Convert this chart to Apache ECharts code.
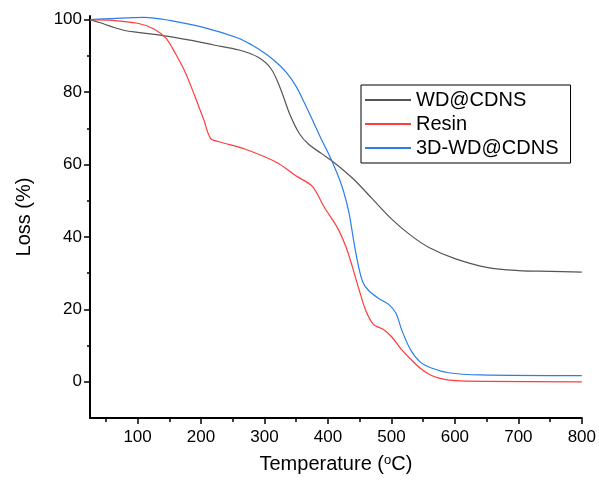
<!DOCTYPE html>
<html>
<head>
<meta charset="utf-8">
<script src="https://cdn.jsdelivr.net/npm/echarts@6.0.0/dist/echarts.min.js"></script>
<style>
  html, body { margin: 0; padding: 0; background: #fff; }
  #main { width: 599px; height: 483px; }
</style>
</head>
<body>
<div id="main"></div>
<script>
// 曲线数据 (温度 / 失重)
let wdTemp = [25, 40, 60, 80, 100, 140, 180, 220, 260, 290, 310, 325, 340, 355, 370, 390, 410, 440, 470, 500, 530, 560, 600, 650, 700, 750, 800]
let wdLoss = [100, 99.2, 98, 97, 96.5, 95.6, 94.4, 93, 91.6, 89.6, 86.5, 81, 73.8, 68.5, 65.5, 63, 60.5, 56, 50.5, 45, 40.5, 37, 34, 31.6, 30.7, 30.5, 30.3]

let resinTemp = [25, 60, 100, 125, 145, 160, 175, 190, 205, 215, 230, 270, 320, 350, 375, 395, 415, 428, 438, 449, 460, 472, 488, 500, 516, 530, 545, 560, 575, 600, 650, 800]
let resinLoss = [100, 99.8, 99, 97.5, 94.8, 90.5, 85.5, 79, 72, 67.2, 66.2, 64.2, 60.5, 56.8, 54, 48, 42.5, 37.4, 32, 25.4, 19.5, 15.8, 14.4, 12.5, 8.9, 6.3, 3.8, 2, 1, 0.3, 0.1, 0]

let d3Temp = [25, 60, 110, 150, 205, 257, 280, 300, 318, 335, 350, 362, 375, 390, 405, 422, 433, 441, 448, 455, 464, 480, 496, 507, 516, 530, 545, 563, 590, 640, 800]
let d3Loss = [100, 100.3, 100.6, 99.8, 97.8, 95, 93, 90.8, 88.3, 85.3, 81.5, 77.3, 72.5, 66.8, 61.4, 54, 46.7, 38.4, 32, 27.5, 25.2, 23, 21.3, 19, 14.4, 8.9, 5.5, 3.8, 2.5, 1.9, 1.7]

let names = ['WD@CDNS', 'Resin', '3D-WD@CDNS']
let colors = ['#555555', '#ff3c3c', '#2b7de9']

// 刻度
let xMajor = [100, 200, 300, 400, 500, 600, 700, 800]
let xMinor = [50, 150, 250, 350, 450, 550, 650, 750]
let yMajor = [0, 20, 40, 60, 80, 100]
let yMinor = [10, 30, 50, 70, 90]

function pairs(xs, ys) {
  let out = []
  for (var i = 0; i < xs.length; i++) {
    out.push([xs[i], ys[i]])
  }
  return out
}

var myChart = echarts.init(document.getElementById('main'))
var font = 'Liberation Sans, Arial, sans-serif'
var option = {
  animation: false,
  textStyle: { fontFamily: font },
  grid: { left: 90, right: 15, top: 16, bottom: 65 },
  legend: {
    orient: 'vertical',
    left: 361,
    top: 85,
    padding: [5, 12, 5, 3],
    itemGap: 4,
    itemWidth: 46,
    itemHeight: 15,
    itemStyle: { opacity: 0 },
    borderColor: '#000',
    borderWidth: 1,
    textStyle: { fontSize: 20, color: '#000', fontFamily: font },
    data: names,
  },
  xAxis: [
    {
      type: 'value',
      min: 25,
      max: 800,
      name: 'Temperature ({sup|o}C)',
      nameLocation: 'middle',
      nameGap: 36,
      nameTextStyle: {
        fontSize: 20,
        color: '#000',
        rich: { sup: { fontSize: 13, verticalAlign: 'top', padding: [0, 0, 8, 0] } },
      },
      axisLine: { onZero: false, lineStyle: { color: '#000', width: 2 } },
      axisTick: { inside: false, length: 6, lineStyle: { color: '#000', width: 1.5 }, customValues: xMajor },
      axisLabel: { fontSize: 17, color: '#000', margin: 11, customValues: xMajor },
      splitLine: { show: false },
    },
    {
      type: 'value',
      min: 25,
      max: 800,
      position: 'bottom',
      axisLine: { show: false, onZero: false },
      axisTick: { inside: false, length: 4, lineStyle: { color: '#000', width: 1.5 }, customValues: xMinor },
      axisLabel: { show: false },
      splitLine: { show: false },
    },
  ],
  yAxis: [
    {
      type: 'value',
      min: -10,
      max: 101,
      name: 'Loss (%)',
      nameLocation: 'middle',
      nameGap: 56,
      nameTextStyle: { fontSize: 20, color: '#000' },
      axisLine: { show: true, onZero: false, lineStyle: { color: '#000', width: 2 } },
      axisTick: { show: true, inside: false, length: 6, lineStyle: { color: '#000', width: 1.5 }, customValues: yMajor },
      axisLabel: { fontSize: 17, color: '#000', margin: 8, customValues: yMajor },
      splitLine: { show: false },
    },
    {
      type: 'value',
      min: -10,
      max: 101,
      position: 'left',
      axisLine: { show: false, onZero: false },
      axisTick: { show: true, inside: false, length: 3, lineStyle: { color: '#000', width: 1.5 }, customValues: yMinor },
      axisLabel: { show: false },
      splitLine: { show: false },
    },
  ],
  series: [
    {
      name: names[0],
      type: 'line',
      data: pairs(wdTemp, wdLoss),
      smooth: 0.35,
      showSymbol: false,
      lineStyle: { color: colors[0], width: 1.2 },
      itemStyle: { color: colors[0] },
    },
    {
      name: names[1],
      type: 'line',
      data: pairs(resinTemp, resinLoss),
      smooth: 0.3,
      showSymbol: false,
      lineStyle: { color: colors[1], width: 1.2 },
      itemStyle: { color: colors[1] },
    },
    {
      name: names[2],
      type: 'line',
      data: pairs(d3Temp, d3Loss),
      smooth: 0.35,
      showSymbol: false,
      lineStyle: { color: colors[2], width: 1.2 },
      itemStyle: { color: colors[2] },
    },
  ],
}
myChart.setOption(option)
</script>
</body>
</html>
